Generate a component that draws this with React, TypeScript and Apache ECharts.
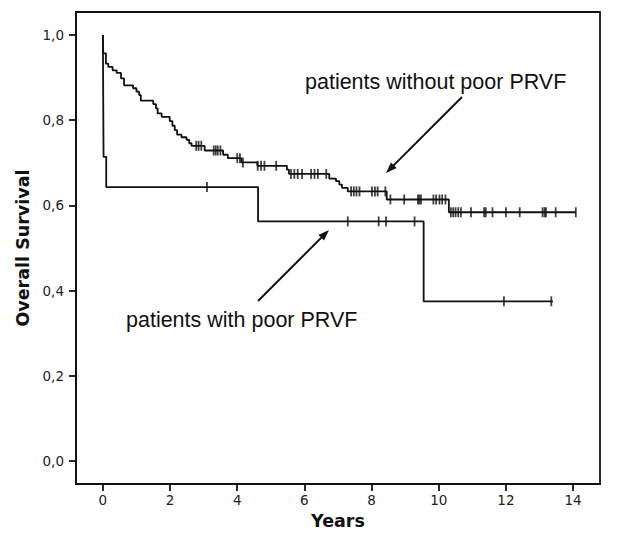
import React, { useEffect, useRef } from "react";
import * as echarts from "echarts";

// Kaplan-Meier: patients without poor PRVF
const noPoorTimes = [0, 0.01, 0.09, 0.16, 0.29, 0.41, 0.54, 0.63, 0.9, 1.0, 1.08, 1.13, 1.5, 1.58, 1.63, 1.75, 1.99, 2.07, 2.14, 2.21, 2.34, 2.49, 2.57, 2.64, 3.03, 3.58, 3.72, 4.12, 4.6, 5.48, 5.54, 6.74, 6.94, 7.04, 7.12, 7.29, 8.45, 10.3, 14.08];
const noPoorSurv = [1.0, 0.957, 0.933, 0.925, 0.917, 0.911, 0.898, 0.882, 0.875, 0.867, 0.859, 0.846, 0.838, 0.828, 0.816, 0.808, 0.798, 0.787, 0.777, 0.766, 0.76, 0.754, 0.746, 0.74, 0.729, 0.719, 0.711, 0.701, 0.693, 0.684, 0.674, 0.663, 0.657, 0.649, 0.641, 0.633, 0.614, 0.584, 0.584];
const noPoorCensored = [2.78, 2.85, 2.93, 3.3, 3.36, 3.42, 3.5, 4.0, 4.08, 4.17, 4.61, 4.71, 4.81, 5.16, 5.6, 5.7, 5.8, 5.93, 6.2, 6.3, 6.4, 6.65, 7.39, 7.47, 7.55, 7.64, 8.01, 8.1, 8.18, 8.41, 8.56, 8.97, 9.38, 9.42, 9.47, 9.84, 9.92, 10.02, 10.1, 10.2, 10.36, 10.43, 10.5, 10.58, 10.66, 10.96, 11.35, 11.4, 11.6, 12.0, 12.41, 13.09, 13.15, 13.19, 13.48, 14.08];

// Kaplan-Meier: patients with poor PRVF
const poorTimes = [0, 0.02, 0.1, 4.62, 9.55, 13.4];
const poorSurv = [1.0, 0.714, 0.643, 0.5625, 0.375, 0.375];
const poorCensored = [3.1, 7.29, 8.21, 8.43, 9.28, 11.94, 13.35];

const xTicks = [0, 2, 4, 6, 8, 10, 12, 14];
const yTicks = [0, 0.2, 0.4, 0.6, 0.8, 1.0];

const survAt = (times: number[], surv: number[], t: number) => {
  let s = surv[0];
  for (let i = 0; i < times.length; i++) if (times[i] <= t) s = surv[i];
  return s;
};

const ink = "#111";

const arrow = (x1: number, y1: number, x2: number, y2: number) => {
  const dx = x2 - x1, dy = y2 - y1;
  const len = Math.sqrt(dx * dx + dy * dy);
  const ux = dx / len, uy = dy / len;
  const nx = -uy, ny = ux;
  const L = 11, W = 8;
  const bx = x2 - ux * L, by = y2 - uy * L;
  return [
    { type: "line", shape: { x1, y1, x2: bx + ux * 2, y2: by + uy * 2 }, style: { stroke: ink, lineWidth: 2 } },
    {
      type: "polygon",
      shape: { points: [[x2, y2], [bx + nx * W / 2, by + ny * W / 2], [bx - nx * W / 2, by - ny * W / 2]] },
      style: { fill: ink },
    },
  ];
};

export default function App() {
  const ref = useRef<HTMLDivElement>(null);
  useEffect(() => {
    const chart = echarts.init(ref.current!, null, { renderer: "svg" });
    const fmt = (v: number) => v.toFixed(1).replace(".", ",");
    chart.setOption({
      animation: false,
      backgroundColor: "#fff",
      grid: { left: 76, top: 12, right: 30, bottom: 49, show: true, borderColor: ink, borderWidth: 1.8 },
      xAxis: {
        type: "value",
        min: -0.8,
        max: 14.8,
        name: "Years",
        nameLocation: "middle",
        nameGap: 27,
        nameTextStyle: { fontFamily: "DejaVu Sans", fontWeight: "bold", fontSize: 17.5, color: ink },
        axisLine: { show: true, onZero: false, lineStyle: { color: ink, width: 1.8 } },
        axisTick: { show: true, inside: false, length: 7, lineStyle: { color: ink, width: 1.8 }, customValues: xTicks },
        axisLabel: { customValues: xTicks, fontFamily: "DejaVu Sans", fontSize: 13.5, color: "#222", margin: 9 },
        splitLine: { show: false },
      },
      yAxis: {
        type: "value",
        min: -0.054,
        max: 1.054,
        name: "Overall Survival",
        nameLocation: "middle",
        nameGap: 34,
        nameTextStyle: { fontFamily: "DejaVu Sans", fontWeight: "bold", fontSize: 17.5, color: ink },
        axisLine: { show: true, onZero: false, lineStyle: { color: ink, width: 1.8 } },
        axisTick: { show: true, inside: false, length: 7, lineStyle: { color: ink, width: 1.8 }, customValues: yTicks },
        axisLabel: { customValues: yTicks, formatter: fmt, fontFamily: "DejaVu Sans", fontSize: 13.5, color: "#222", margin: 12 },
        splitLine: { show: false },
      },
      series: [
        {
          type: "line",
          step: "end",
          showSymbol: false,
          data: noPoorTimes.map((t, i) => [t, noPoorSurv[i]]),
          lineStyle: { color: ink, width: 1.8 },
          silent: true,
        },
        {
          type: "line",
          step: "end",
          showSymbol: false,
          data: poorTimes.map((t, i) => [t, poorSurv[i]]),
          lineStyle: { color: ink, width: 1.8 },
          silent: true,
        },
        {
          type: "scatter",
          symbol: "rect",
          symbolSize: [1.8, 10],
          data: noPoorCensored.map((t) => [t, survAt(noPoorTimes, noPoorSurv, t)]),
          itemStyle: { color: ink },
          silent: true,
          z: 3,
        },
        {
          type: "scatter",
          symbol: "rect",
          symbolSize: [1.8, 10],
          data: poorCensored.map((t) => [t, survAt(poorTimes, poorSurv, t)]),
          itemStyle: { color: ink },
          silent: true,
          z: 3,
        },
      ],
      graphic: [
        {
          type: "text",
          x: 305,
          y: 82,
          style: { text: "patients without poor PRVF", fontFamily: "Liberation Sans, Arial", fontSize: 21.5, fill: ink, verticalAlign: "middle", align: "left" },
        },
        {
          type: "text",
          x: 126,
          y: 320,
          style: { text: "patients with poor PRVF", fontFamily: "Liberation Sans, Arial", fontSize: 21.5, fill: ink, verticalAlign: "middle", align: "left" },
        },
        ...arrow(462, 97, 386, 173),
        ...arrow(258, 301, 329, 230),
      ],
    });
    return () => chart.dispose();
  }, []);
  return <div ref={ref} style={{ position: "fixed", left: 0, top: 0, width: 630, height: 535 }} />;
}
